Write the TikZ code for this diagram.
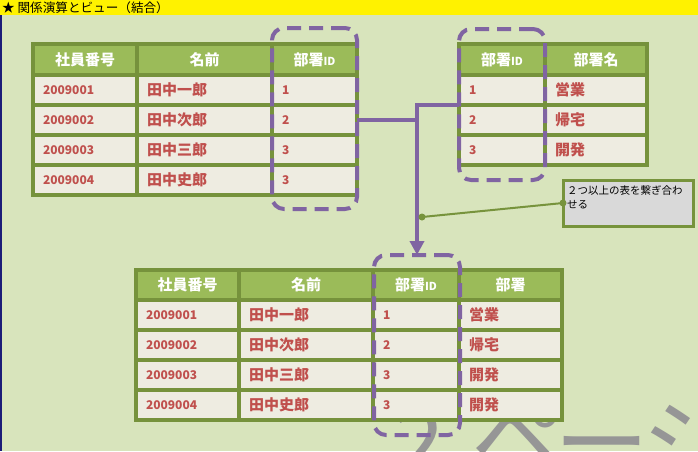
\documentclass[tikz,border=0pt]{standalone}
\usepackage{fontspec}
\setmainfont{Noto Sans CJK JP}
\usetikzlibrary{arrows.meta}
\definecolor{bg}{HTML}{D8E4BC}
\definecolor{hdr}{HTML}{9BBB59}
\definecolor{bord}{HTML}{76923C}
\definecolor{cellf}{HTML}{EEECE1}
\definecolor{redtxt}{HTML}{C0504D}
\definecolor{purp}{HTML}{8064A2}
\definecolor{notef}{HTML}{D9D9D9}
\definecolor{notegreen}{HTML}{77933C}
\definecolor{wmgray}{HTML}{969696}
\definecolor{navyline}{HTML}{1C1C78}
\tikzset{
  cellbase/.style={draw=bord, line width=3.5pt, inner sep=0pt, outer sep=0pt},
  hcell/.style={cellbase, fill=hdr, text=white, font=\bfseries\fontsize{15}{15}\selectfont},
  dcell/.style={cellbase, fill=cellf, text=redtxt, inner xsep=10pt, inner ysep=0pt, align=left},
  numtxt/.style={font=\bfseries\fontsize{12}{12}\selectfont},
  nametxt/.style={font=\bfseries\fontsize{15}{15}\selectfont},
  dashbox/.style={draw=purp, line width=4pt, rounded corners=12pt, dash pattern=on 14pt off 8pt, inner sep=0pt, outer sep=0pt},
  conn/.style={draw=purp, line width=4pt},
  noteline/.style={draw=notegreen, line width=2pt},
  notebox/.style={draw=notegreen, fill=notef, line width=3pt, inner sep=0pt, outer sep=0pt},
  wmtext/.style={text=wmgray, font=\fontsize{95}{95}\selectfont, inner sep=0pt},
}
\newcommand\cellH[6]{\node[hcell, minimum width={#4-#2}, minimum height={#5-#3}] (#1) at ({(#2+#4)/2},{(#3+#5)/2}) {#6};}
\newcommand\cellD[7]{\node[dcell, #7, text width={#4-#2-20}, minimum height={#5-#3}] (#1) at ({(#2+#4)/2},{(#3+#5)/2}) {#6};}
\newcommand\smallid{{\fontsize{11}{11}\selectfont ID}}
\begin{document}
\begin{tikzpicture}[x=1pt,y=-1pt]
\useasboundingbox (0,0) rectangle (698,451);
\fill[bg] (0,0) rectangle (698,451);
% title bar
\fill[yellow] (0,0) rectangle (698,15);
\node[anchor=base west, inner sep=0pt, font=\fontsize{12.6}{12.6}\selectfont] (title) at (2,12.5) {★ 関係演算とビュー（結合）};
\draw[navyline, line width=1.5pt] (1,15) -- (1,451);
% watermark (page label, behind the tables)
\node[wmtext, anchor=base west] (wm) at (392,477) {2\kern 27pt \raisebox{4pt}{ペ}\kern-12ptー\kern-7ptジ};
% ---------- table 1
\cellH{t1h1}{33}{44}{137}{75}{社員番号}
\cellH{t1h2}{137}{44}{272}{75}{名前}
\cellH{t1h3}{272}{44}{357}{75}{部署\smallid}
\foreach \num/\nm/\d [count=\i] in {2009001/田中一郎/1,2009002/田中次郎/2,2009003/田中三郎/3,2009004/田中史郎/3}{
  \pgfmathsetmacro\ya{45+30*\i}\pgfmathsetmacro\yb{\ya+30}
  \cellD{t1r\i c1}{33}{\ya}{137}{\yb}{\num}{numtxt}
  \cellD{t1r\i c2}{137}{\ya}{272}{\yb}{\nm}{nametxt}
  \cellD{t1r\i c3}{272}{\ya}{357}{\yb}{\d}{numtxt}
}
% ---------- table 2
\cellH{t2h1}{459}{44}{545}{75}{部署\smallid}
\cellH{t2h2}{545}{44}{647}{75}{部署名}
\foreach \d/\dn [count=\i] in {1/営業,2/帰宅,3/開発}{
  \pgfmathsetmacro\ya{45+30*\i}\pgfmathsetmacro\yb{\ya+30}
  \cellD{t2r\i c1}{459}{\ya}{545}{\yb}{\d}{numtxt}
  \cellD{t2r\i c2}{545}{\ya}{647}{\yb}{\dn}{nametxt}
}
% ---------- table 3
\cellH{t3h1}{136}{270}{239}{300}{社員番号}
\cellH{t3h2}{239}{270}{373}{300}{名前}
\cellH{t3h3}{373}{270}{459}{300}{部署\smallid}
\cellH{t3h4}{459}{270}{562}{300}{部署}
\foreach \num/\nm/\d/\dn [count=\i] in {2009001/田中一郎/1/営業,2009002/田中次郎/2/帰宅,2009003/田中三郎/3/開発,2009004/田中史郎/3/開発}{
  \pgfmathsetmacro\ya{270+30*\i}\pgfmathsetmacro\yb{\ya+30}
  \cellD{t3r\i c1}{136}{\ya}{239}{\yb}{\num}{numtxt}
  \cellD{t3r\i c2}{239}{\ya}{373}{\yb}{\nm}{nametxt}
  \cellD{t3r\i c3}{373}{\ya}{459}{\yb}{\d}{numtxt}
  \cellD{t3r\i c4}{459}{\ya}{562}{\yb}{\dn}{nametxt}
}
% ---------- dashed highlight boxes
\node[dashbox, minimum width=85, minimum height=181] (D1) at (314.5,118.5) {};
\node[dashbox, minimum width=86, minimum height=151] (D2) at (502,104.5) {};
\node[dashbox, minimum width=86, minimum height=180] (D3) at (417,345) {};
% ---------- connectors
\coordinate (jA) at (D1.east |- t1r2c3.center);
\coordinate (jB) at (D2.west |- t2r1c1.south);
\coordinate (jX) at (D3.north |- jB);
\draw[conn] (jA) -- (jA -| D3.north);
\draw[conn, -{Triangle[width=14pt,length=14pt]}] (jB) -- (jX) -- (D3.north);
% ---------- callout
\node[notebox, minimum width=130, minimum height=46, anchor=north west] (note) at (563,180) {};
\node[anchor=north west, inner sep=0pt, align=left, font=\fontsize{10.5}{14}\selectfont] (notetxt) at (567,185) {２つ以上の表を繋ぎ合わ\\せる};
\coordinate (cp) at (422,217);
\draw[noteline] (note.west) -- (cp);
\fill[notegreen] (note.west) circle[radius=3.5pt];
\fill[notegreen] (cp) circle[radius=3.5pt];
\end{tikzpicture}
\end{document}
